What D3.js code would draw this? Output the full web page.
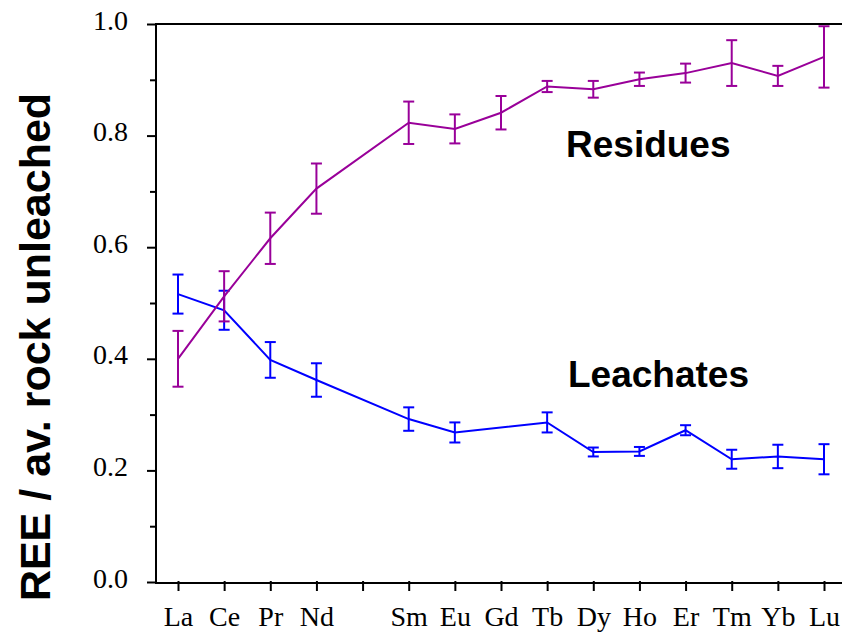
<!DOCTYPE html>
<html>
<head>
<meta charset="utf-8">
<script src="https://cdn.jsdelivr.net/npm/d3@7/dist/d3.min.js"></script>
<style>
  html, body { margin: 0; padding: 0; background: #fff; }
  svg { display: block; }
</style>
</head>
<body>
<svg id="chart" width="842" height="635"></svg>
<script>
// Rare earth elements in atomic order (Pm has no data)
const elements = ["La", "Ce", "Pr", "Nd", "Pm", "Sm", "Eu", "Gd", "Tb", "Dy", "Ho", "Er", "Tm", "Yb", "Lu"];
const tickLabels = ["La", "Ce", "Pr", "Nd", "", "Sm", "Eu", "Gd", "Tb", "Dy", "Ho", "Er", "Tm", "Yb", "Lu"];

// Residues: REE / average unleached rock, with ± error
const residues    = [0.400, 0.512, 0.616, 0.705, null, 0.823, 0.812, 0.841, 0.888, 0.883, 0.901, 0.912, 0.930, 0.907, 0.941];
const residuesErr = [0.050, 0.045, 0.046, 0.045, null, 0.038, 0.026, 0.030, 0.010, 0.015, 0.012, 0.017, 0.041, 0.018, 0.055];

// Leachates
const leachates    = [0.516, 0.487, 0.398, 0.362, null, 0.292, 0.268, null, 0.286, 0.233, 0.234, 0.272, 0.220, 0.225, 0.220];
const leachatesErr = [0.035, 0.035, 0.032, 0.030, null, 0.021, 0.018, null, 0.018, 0.008, 0.008, 0.009, 0.017, 0.021, 0.027];

const yMajor = [0.0, 0.2, 0.4, 0.6, 0.8, 1.0];
const yMinor = [0.1, 0.3, 0.5, 0.7, 0.9];

const svg = d3.select("#chart");

const x = d3.scaleLinear().domain([0, elements.length - 1]).range([178, 824]);
const y = d3.scaleLinear().domain([0, 1]).range([582, 24]);

const plotLeft = 156, plotRight = 842, plotBottom = 583, plotTop = y(1);

// Frame: left axis, bottom axis, top line
const frame = svg.append("g").attr("stroke", "#000").attr("stroke-width", 2).attr("fill", "none");
frame.append("line").attr("x1", plotLeft).attr("x2", plotLeft).attr("y1", plotTop - 1).attr("y2", plotBottom + 1);
frame.append("line").attr("x1", plotLeft - 1).attr("x2", plotRight).attr("y1", plotBottom).attr("y2", plotBottom);
frame.append("line").attr("x1", plotLeft - 1).attr("x2", plotRight).attr("y1", plotTop).attr("y2", plotTop);

// Y axis: major ticks with labels, minor ticks without
const yAxis = d3.axisLeft(y).tickValues(yMajor).tickFormat(d3.format(".1f")).tickSize(9).tickSizeOuter(0).tickPadding(19);
const gy = svg.append("g").attr("transform", `translate(${plotLeft},0)`).call(yAxis);
gy.select(".domain").remove();
gy.selectAll(".tick line").attr("stroke", "#000").attr("stroke-width", 2);
gy.selectAll(".tick text")
  .attr("font-family", "'Liberation Serif', 'Times New Roman', serif")
  .attr("font-size", 28).attr("fill", "#000")
  .attr("dy", "0.18em");

const yAxisMinor = d3.axisLeft(y).tickValues(yMinor).tickFormat("").tickSize(6).tickSizeOuter(0);
const gym = svg.append("g").attr("transform", `translate(${plotLeft},0)`).call(yAxisMinor);
gym.select(".domain").remove();
gym.selectAll(".tick line").attr("stroke", "#000").attr("stroke-width", 2);

// X axis: one tick per element, labels below
const xAxis = d3.axisBottom(x).tickValues(d3.range(elements.length))
  .tickFormat(i => tickLabels[i]).tickSize(10).tickSizeOuter(0).tickPadding(15);
const gx = svg.append("g").attr("transform", `translate(0,${plotBottom - 2})`).call(xAxis);
gx.select(".domain").remove();
gx.selectAll(".tick line").attr("stroke", "#000").attr("stroke-width", 2);
gx.selectAll(".tick text")
  .attr("font-family", "'Liberation Serif', 'Times New Roman', serif")
  .attr("font-size", 28).attr("fill", "#000");

// Y axis title
svg.append("text")
  .attr("transform", `translate(50,347) rotate(-90)`)
  .attr("text-anchor", "middle")
  .attr("font-family", "'Liberation Sans', Arial, sans-serif")
  .attr("font-weight", "bold")
  .attr("font-size", 43)
  .attr("fill", "#000")
  .text("REE / av. rock unleached");

// Series drawing: line through defined points, then error bars with caps
function drawSeries(values, errs, color) {
  const pts = values.map((v, i) => ({ i, v, e: errs[i] })).filter(d => d.v != null);
  const g = svg.append("g");
  g.append("path")
    .datum(pts)
    .attr("fill", "none")
    .attr("stroke", color)
    .attr("stroke-width", 2)
    .attr("d", d3.line().x(d => x(d.i)).y(d => y(d.v)));
  const cap = 5.5;
  const eb = g.selectAll("g.eb").data(pts).enter().append("g")
    .attr("stroke", color).attr("stroke-width", 2);
  eb.append("line")
    .attr("x1", d => x(d.i)).attr("x2", d => x(d.i))
    .attr("y1", d => y(d.v + d.e)).attr("y2", d => y(d.v - d.e));
  eb.append("line")
    .attr("x1", d => x(d.i) - cap).attr("x2", d => x(d.i) + cap)
    .attr("y1", d => y(d.v + d.e)).attr("y2", d => y(d.v + d.e));
  eb.append("line")
    .attr("x1", d => x(d.i) - cap).attr("x2", d => x(d.i) + cap)
    .attr("y1", d => y(d.v - d.e)).attr("y2", d => y(d.v - d.e));
}

drawSeries(leachates, leachatesErr, "#0000ff");
drawSeries(residues, residuesErr, "#990099");

// Series labels
const labelFamily = "'Liberation Sans', Arial, sans-serif";
svg.append("text")
  .attr("x", 566).attr("y", 157)
  .attr("font-family", labelFamily).attr("font-weight", "bold")
  .attr("font-size", 37).attr("fill", "#000")
  .text("Residues");
svg.append("text")
  .attr("x", 568).attr("y", 387)
  .attr("font-family", labelFamily).attr("font-weight", "bold")
  .attr("font-size", 37).attr("fill", "#000")
  .text("Leachates");
</script>
</body>
</html>
